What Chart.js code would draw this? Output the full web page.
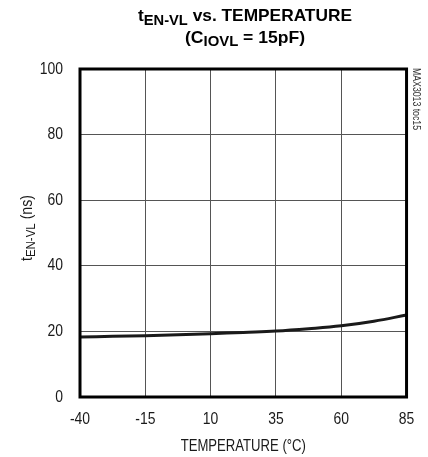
<!DOCTYPE html>
<html>
<head>
<meta charset="utf-8">
<script src="https://cdn.jsdelivr.net/npm/chart.js@4.4.0/dist/chart.umd.min.js"></script>
<style>
  html, body { margin: 0; padding: 0; background: #ffffff; }
  #wrap { width: 428px; height: 457px; position: relative; }
</style>
</head>
<body>
<div id="wrap"><canvas id="c" width="428" height="457"></canvas></div>
<script>
// ---- data ----
const temperatures = [-40, -27.5, -15, -2.5, 10, 22.5, 35, 47.5, 60, 72.5, 85];
const tEnVl = [18.3, 18.5, 18.7, 19.0, 19.3, 19.7, 20.1, 20.8, 21.7, 23.1, 25.0];
const xTicks = [-40, -15, 10, 35, 60, 85];
const yTicks = [0, 20, 40, 60, 80, 100];

const FONT = "'Liberation Sans', Arial, Helvetica, sans-serif";
const INK = '#1a1a1a';
const NARROW = 0.82;

// draw a run of text parts (with subscripts) so that it spans x0..x1
function drawFit(ctx, parts, x0, x1, y) {
  let total = 0;
  const widths = parts.map(p => {
    ctx.font = (p.bold ? 'bold ' : '') + p.size + 'px ' + FONT;
    const w = ctx.measureText(p.t).width;
    total += w;
    return w;
  });
  const k = (x1 - x0) / total;
  ctx.save();
  ctx.translate(x0, y);
  ctx.scale(k, 1);
  let cx = 0;
  parts.forEach((p, i) => {
    ctx.font = (p.bold ? 'bold ' : '') + p.size + 'px ' + FONT;
    ctx.fillText(p.t, cx, p.dy || 0);
    cx += widths[i];
  });
  ctx.restore();
}

// condensed rendering of the library's own text (tick labels, axis title)
let origFillText = null;
const condense = {
  id: 'condense',
  beforeDraw(chart) {
    const ctx = chart.ctx;
    origFillText = ctx.fillText;
    ctx.fillText = function (t, x, y) {
      this.save();
      this.translate(x, y);
      this.scale(NARROW, 1);
      origFillText.call(this, t, 0, 0);
      this.restore();
    };
  }
};

const decor = {
  id: 'decor',
  afterDraw(chart) {
    const ctx = chart.ctx;
    if (origFillText) { ctx.fillText = origFillText; }
    const a = chart.chartArea;
    ctx.save();
    // frame
    ctx.strokeStyle = '#000';
    ctx.lineWidth = 3;
    ctx.strokeRect(a.left, a.top, a.right - a.left, a.bottom - a.top);

    ctx.fillStyle = '#000';
    ctx.textBaseline = 'alphabetic';
    ctx.textAlign = 'left';
    // title line 1
    drawFit(ctx, [
      {t: 't', size: 16.5, bold: true},
      {t: 'EN-VL', size: 14, bold: true, dy: 4},
      {t: ' vs. TEMPERATURE', size: 16.5, bold: true}
    ], 138, 352, 20.7);
    // title line 2
    drawFit(ctx, [
      {t: '(C', size: 16.5, bold: true},
      {t: 'IOVL', size: 14, bold: true, dy: 3.5},
      {t: ' = 15pF)', size: 16.5, bold: true}
    ], 185, 305, 42.5);

    // y axis title (rotated)
    ctx.fillStyle = INK;
    ctx.save();
    ctx.translate(32, 0);
    ctx.rotate(-Math.PI / 2);
    // in rotated frame, x = -screenY
    drawFit(ctx, [
      {t: 't', size: 16},
      {t: 'EN-VL', size: 13, dy: 2.5},
      {t: ' (ns)', size: 16}
    ], -261, -195, 0);
    ctx.restore();

    // side label
    ctx.save();
    ctx.fillStyle = '#333';
    ctx.translate(413, 0);
    ctx.rotate(Math.PI / 2);
    drawFit(ctx, [{t: 'MAX3013 toc15', size: 10.5}], 68, 130, 0);
    ctx.restore();

    ctx.restore();
  }
};

new Chart(document.getElementById('c'), {
  type: 'line',
  data: {
    datasets: [{
      data: temperatures.map((t, i) => ({x: t, y: tEnVl[i]})),
      borderColor: INK,
      borderWidth: 3,
      pointRadius: 0,
      tension: 0.4,
      fill: false
    }]
  },
  options: {
    responsive: false,
    animation: false,
    devicePixelRatio: 1,
    layout: { padding: { left: 0, right: 18, top: 69, bottom: 0 } },
    plugins: { legend: { display: false }, tooltip: { enabled: false }, title: { display: false } },
    scales: {
      x: {
        type: 'linear',
        min: -40, max: 85,
        afterBuildTicks: s => { s.ticks = xTicks.map(v => ({value: v})); },
        afterFit: s => { s.height = 60; },
        grid: { color: '#555', lineWidth: 1, drawTicks: false },
        border: { display: false },
        ticks: { color: INK, font: { family: FONT, size: 17 }, padding: 12, maxRotation: 0, autoSkip: false },
        title: { display: true, text: 'TEMPERATURE (°C)', color: INK, font: { family: FONT, size: 16 }, padding: { top: 0, bottom: 1 } }
      },
      y: {
        type: 'linear',
        min: 0, max: 100,
        afterBuildTicks: s => { s.ticks = yTicks.map(v => ({value: v})); },
        afterFit: s => { s.width = 80; },
        grid: { color: '#555', lineWidth: 1, drawTicks: false },
        border: { display: false },
        ticks: { color: INK, font: { family: FONT, size: 17 }, padding: 17, autoSkip: false }
      }
    }
  },
  plugins: [condense, decor]
});
</script>
</body>
</html>
